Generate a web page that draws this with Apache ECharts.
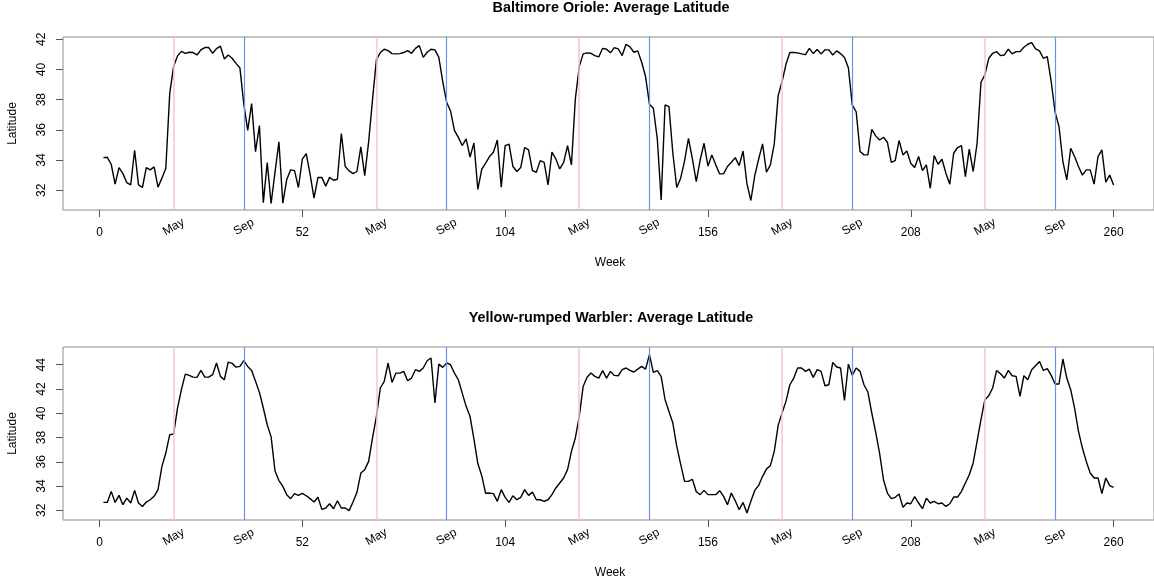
<!DOCTYPE html>
<html><head><meta charset="utf-8">
<script src="https://cdn.jsdelivr.net/npm/echarts@6/dist/echarts.min.js"></script>
<style>html,body{margin:0;padding:0;background:#fff}#c{width:1154px;height:583px}</style>
</head><body><div id="c"></div>
<script>
// ---- data ----
const oriole = [34.16,34.18,33.72,32.4,33.5,33.1,32.5,32.35,34.65,32.35,32.18,33.5,33.35,33.55,32.2,32.8,33.45,38.4,40.2,40.9,
41.2,41.07,41.14,41.12,40.96,41.3,41.45,41.45,41.07,41.38,41.54,40.7,40.96,40.74,40.4,40.1,37.7,35.97,37.74,34.56,
36.28,31.18,33.83,31.12,33.2,35.2,31.14,32.7,33.35,33.3,32.18,34.06,34.42,33.05,31.47,32.84,32.85,32.27,32.85,32.66,
32.73,35.75,33.57,33.28,33.1,33.24,34.87,32.97,35.2,38.0,40.65,41.12,41.34,41.25,41.05,41.03,41.05,41.12,41.25,41.07,
41.4,41.58,40.8,41.14,41.34,41.3,40.8,39.2,37.83,37.25,35.97,35.5,34.96,35.4,34.2,35.13,32.05,33.38,33.8,34.23,
34.52,35.33,32.2,34.96,35.05,33.57,33.24,33.5,34.83,34.67,33.3,33.19,33.96,33.85,32.35,34.52,34.07,33.41,33.85,34.96,
33.68,38.05,40.19,41.03,41.1,41.07,40.92,40.83,41.4,41.34,41.1,41.45,41.36,40.92,41.67,41.5,41.14,41.23,40.48,39.53,
37.7,37.43,35.44,31.36,37.65,37.54,34.45,32.18,32.8,33.94,35.44,34.1,32.57,34.0,35.11,33.6,34.34,33.68,33.08,33.08,
33.57,33.85,34.16,33.63,34.6,32.42,31.32,32.97,34.07,35.07,33.19,33.68,35.07,38.27,39.2,40.34,41.12,41.12,41.1,41.03,
40.98,41.4,41.05,41.32,41.03,41.3,41.3,40.96,41.23,41.05,40.8,40.12,37.65,37.2,34.56,34.34,34.34,36.04,35.6,35.33,
35.51,35.18,33.85,33.96,35.29,34.34,34.6,33.79,33.5,34.23,33.3,33.68,32.13,34.3,33.72,34.05,33.13,32.4,34.45,34.83,
34.96,32.9,34.72,33.24,35.11,39.15,39.64,40.74,41.07,41.18,40.92,40.96,41.34,41.03,41.18,41.18,41.47,41.67,41.78,41.36,
41.23,40.74,40.85,39.2,37.17,36.22,33.9,32.68,34.78,34.23,33.57,33.0,33.35,33.35,32.4,34.23,34.67,32.53,33.0,32.35];

const warbler = [32.65,32.65,33.56,32.65,33.23,32.46,33.0,32.6,33.64,32.6,32.32,32.68,32.87,33.15,33.7,35.62,36.72,38.23,38.29,40.43,
41.94,43.23,43.12,42.98,42.96,43.53,42.98,42.98,43.18,44.14,43.04,42.76,44.22,44.11,43.8,43.86,44.33,43.86,43.53,42.63,
41.72,40.43,39.05,38.05,35.24,34.45,33.97,33.29,32.96,33.37,33.23,33.4,33.2,32.96,32.68,33.07,32.08,32.19,32.54,32.13,
32.79,32.19,32.19,31.97,32.68,33.48,35.07,35.35,36.03,37.96,39.74,42.08,42.63,44.14,42.54,43.31,43.31,43.45,42.68,42.9,
43.59,43.45,43.73,44.33,44.55,40.84,44.05,43.78,44.14,44.0,43.31,42.76,41.66,40.57,39.74,37.87,35.85,34.85,33.4,33.42,
33.37,32.74,33.7,33.07,32.65,33.2,32.87,33.07,33.7,33.23,33.5,32.87,32.87,32.74,32.87,33.29,33.84,34.25,34.66,35.35,
36.86,37.96,39.74,42.21,42.96,43.31,43.04,42.9,43.51,42.9,43.45,43.12,43.09,43.59,43.73,43.53,43.4,43.64,43.86,43.64,
44.82,43.37,43.51,43.04,41.12,40.15,39.19,37.27,35.81,34.38,34.38,34.56,33.53,33.29,33.64,33.29,33.29,33.29,33.62,33.15,
32.46,33.42,32.79,32.05,32.65,31.77,32.74,33.64,34.05,34.8,35.4,35.68,36.86,39.0,40.02,40.98,42.35,42.9,43.73,43.73,
43.45,43.64,42.96,43.59,43.45,42.27,42.35,44.19,43.81,43.73,41.06,44.05,43.12,43.73,43.45,42.35,41.75,40.02,38.45,36.72,
34.52,33.42,32.96,33.07,33.34,32.24,32.6,32.54,33.12,32.6,32.13,33.0,32.6,32.74,32.54,32.6,32.32,32.54,33.09,33.09,
33.56,34.25,34.93,35.9,37.68,39.47,41.12,41.45,42.08,43.53,43.26,42.9,43.53,43.09,43.04,41.39,43.09,42.76,43.59,43.92,
44.27,43.53,43.67,43.12,42.41,42.41,44.47,42.9,41.94,40.43,38.51,37.13,36.03,35.07,34.66,34.66,33.37,34.66,34.03,33.89];

const weeks = oriole.map((_, i) => i + 1);
const numTicks = [0, 52, 104, 156, 208, 260];
const mayWeeks = [19, 71, 123, 175, 227];
const sepWeeks = [37, 89, 141, 193, 245];
const monthTicks = [19, 37, 71, 89, 123, 141, 175, 193, 227, 245];
const latTicksTop = [32, 34, 36, 38, 40, 42];
const latTicksBottom = [32, 34, 36, 38, 40, 42, 44];
const titles = ['Baltimore Oriole: Average Latitude', 'Yellow-rumped Warbler: Average Latitude'];

// ---- chart ----
const FONT = '"Liberation Sans", Arial, sans-serif';
const BOX = '#8c8c8c';
const grids = [{top: 37, height: 173, ymin: 30.69, ymax: 42.15, ticks: latTicksTop},
               {top: 347, height: 173, ymin: 31.2, ymax: 45.46, ticks: latTicksBottom}];
const XMIN = -9.36, XMAX = 270.36;

const option = {animation: false, grid: [], xAxis: [], yAxis: [], series: [], graphic: []};
const seriesData = [oriole, warbler];

grids.forEach((g, gi) => {
  option.grid.push({left: 63, right: -3, top: g.top, height: g.height, show: true,
    borderColor: BOX, borderWidth: 1, backgroundColor: 'transparent'});
  // numeric week axis
  option.xAxis.push({type: 'value', gridIndex: gi, min: XMIN, max: XMAX, position: 'bottom',
    axisLine: {show: false, onZero: false}, splitLine: {show: false},
    axisTick: {show: true, length: 7, inside: false, customValues: numTicks, lineStyle: {color: '#555'}},
    axisLabel: {customValues: numTicks, color: '#000', fontFamily: FONT, fontSize: 12,
      margin: 17, align: 'center', verticalAlign: 'top', formatter: v => String(v)}});
  // month label axis
  option.xAxis.push({type: 'value', gridIndex: gi, min: XMIN, max: XMAX, position: 'bottom',
    axisLine: {show: false, onZero: false}, splitLine: {show: false}, axisTick: {show: false},
    axisLabel: {customValues: monthTicks, rotate: 30, color: '#000', fontFamily: FONT, fontSize: 12,
      margin: 17, align: 'center', verticalAlign: 'middle',
      formatter: v => (mayWeeks.indexOf(v) >= 0 ? 'May' : 'Sep')}});
  option.yAxis.push({type: 'value', gridIndex: gi, min: g.ymin, max: g.ymax, position: 'left',
    axisLine: {show: false, onZero: false}, splitLine: {show: false},
    axisTick: {show: true, length: 7, inside: false, customValues: g.ticks, lineStyle: {color: '#555'}},
    axisLabel: {customValues: g.ticks, rotate: 90, color: '#000', fontFamily: FONT, fontSize: 12,
      margin: 21, align: 'center', verticalAlign: 'middle'}});
  const lines = mayWeeks.map(w => ({xAxis: w, lineStyle: {color: '#FFC0CB', width: 1.5, opacity: 1}}))
    .concat(sepWeeks.map(w => ({xAxis: w, lineStyle: {color: '#6495ED', width: 1.2, opacity: 1}})));
  option.series.push({type: 'line', xAxisIndex: gi * 2, yAxisIndex: gi,
    data: weeks.map((w, i) => [w, seriesData[gi][i]]),
    showSymbol: false, symbol: 'none', lineStyle: {color: '#000', width: 1.4}, z: 3,
    markLine: {silent: true, symbol: ['none', 'none'], label: {show: false}, animation: false,
      lineStyle: {type: 'solid'}, data: lines}});
  const midY = g.top + g.height / 2;
  option.graphic.push(
    {type: 'text', x: 611, y: g.top - 29, style: {text: titles[gi], fontFamily: FONT,
      fontSize: 14.4, fontWeight: 'bold', fill: '#000', textAlign: 'center', textVerticalAlign: 'middle'}},
    {type: 'text', x: 610, y: g.top + g.height + 53, style: {text: 'Week', fontFamily: FONT,
      fontSize: 12, fill: '#000', textAlign: 'center', textVerticalAlign: 'middle'}},
    {type: 'text', x: 13, y: midY, rotation: Math.PI / 2, style: {text: 'Latitude', fontFamily: FONT,
      fontSize: 12, fill: '#000', textAlign: 'center', textVerticalAlign: 'middle'}}
  );
});

const chart = echarts.init(document.getElementById('c'), null, {renderer: 'canvas'});
chart.setOption(option);
</script></body></html>
